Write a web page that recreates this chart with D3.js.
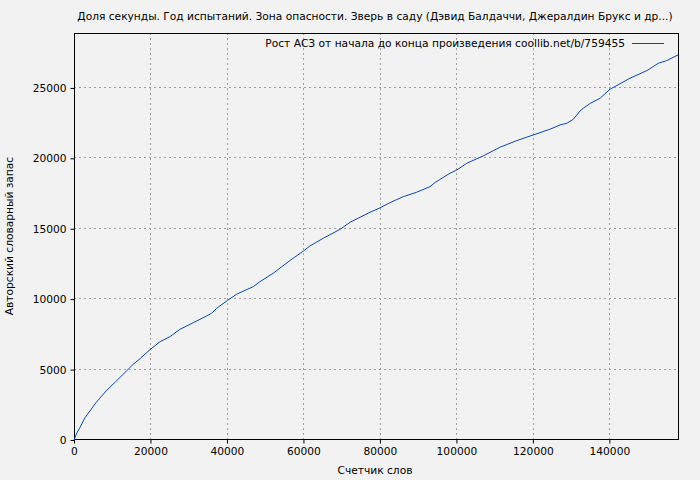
<!DOCTYPE html>
<html><head><meta charset="utf-8">
<script src="https://cdn.jsdelivr.net/npm/d3@7"></script>
<style>
html,body{margin:0;padding:0;background:#f2f2f2;}
svg{display:block;font-family:"DejaVu Sans",sans-serif;}
</style></head>
<body>
<svg id="c" width="700" height="480"></svg>
<script>
const title = "Доля секунды. Год испытаний. Зона опасности. Зверь в саду (Дэвид Балдаччи, Джералдин Брукс и др...)";
const legendLabel = "Рост АСЗ от начала до конца произведения coollib.net/b/759455";
const xLabel = "Счетчик слов";
const yLabel = "Авторский словарный запас";
const xTicks = [0, 20000, 40000, 60000, 80000, 100000, 120000, 140000];
const yTicks = [0, 5000, 10000, 15000, 20000, 25000];
const words = [0,700,1570,2900,5750,8550,10700,13800,15500,17300,19900,22500,25100,27700,31200,34700,36000,37300,40100,42500,46900,48600,52100,56500,60000,61700,65200,69600,72200,77400,80000,82600,86100,89600,93100,94400,98300,100100,102700,107000,111400,115800,120100,124500,127100,128900,130600,132300,133200,135000,137600,140200,145400,149800,152800,155000,158000];
const vocab = [0,480,900,1590,2650,3530,4090,4920,5380,5780,6420,6980,7340,7860,8330,8810,9000,9350,9900,10350,10890,11240,11840,12750,13420,13780,14330,14960,15460,16170,16480,16850,17280,17590,17990,18280,18940,19170,19650,20170,20790,21260,21660,22070,22370,22490,22780,23350,23560,23900,24270,24910,25690,26230,26750,26940,27350];

const svg = d3.select("#c");
const L = 74, R = 678, T = 33, B = 440;
const FS = "10.65px";
const x = d3.scaleLinear().domain([0, 157950]).range([L, R]);
const y = d3.scaleLinear().domain([0, 28900]).range([B, T]);

// grid
const g = svg.append("g");
g.selectAll(".gx").data(xTicks.slice(1)).join("line")
  .attr("x1", d => Math.round(x(d)) + 0.5).attr("x2", d => Math.round(x(d)) + 0.5)
  .attr("y1", T).attr("y2", B)
  .attr("stroke", "#a0a0a0").attr("stroke-dasharray", "2,3");
g.selectAll(".gy").data(yTicks.slice(1)).join("line")
  .attr("y1", d => Math.round(y(d)) - 0.5).attr("y2", d => Math.round(y(d)) - 0.5)
  .attr("x1", L).attr("x2", R)
  .attr("stroke", "#a0a0a0").attr("stroke-dasharray", "2,3");

// axes
const xAxis = d3.axisBottom(x).tickValues(xTicks).tickSize(4).tickPadding(4).tickFormat(d3.format("d"));
const yAxis = d3.axisLeft(y).tickValues(yTicks).tickSize(4).tickPadding(4).tickFormat(d3.format("d"));
const ax = svg.append("g").attr("transform", `translate(0,${B - 0.5})`).call(xAxis);
const ay = svg.append("g").attr("transform", `translate(${L + 0.5},0)`).call(yAxis);
[ax, ay].forEach(a => {
  a.select(".domain").remove();
  a.selectAll("text").attr("font-size", FS).attr("font-family", "DejaVu Sans").attr("fill", "#000");
  a.selectAll("line").attr("stroke", "#000");
});

// frame
svg.append("rect").attr("x", L + 0.5).attr("y", T + 0.5).attr("width", R - L).attr("height", B - T - 1)
  .attr("fill", "none").attr("stroke", "#000");

// line
const line = d3.line().x((d, i) => x(words[i])).y((d, i) => y(vocab[i]));
svg.append("path").datum(vocab).attr("d", line)
  .attr("fill", "none").attr("stroke", "#0a47b8").attr("stroke-width", 1);

// title
svg.append("text").attr("x", 375).attr("y", 20).attr("text-anchor", "middle")
  .attr("font-size", FS).text(title);
// legend
svg.append("text").attr("x", 625).attr("y", 47).attr("text-anchor", "end")
  .attr("font-size", FS).text(legendLabel);
svg.append("line").attr("x1", 632).attr("x2", 664).attr("y1", 43.5).attr("y2", 43.5)
  .attr("stroke", "#0a47b8");
// axis labels
svg.append("text").attr("x", 375).attr("y", 474).attr("text-anchor", "middle")
  .attr("font-size", FS).text(xLabel);
svg.append("text").attr("transform", "translate(13,236) rotate(-90)").attr("text-anchor", "middle")
  .attr("font-size", FS).text(yLabel);
</script>
</body></html>
